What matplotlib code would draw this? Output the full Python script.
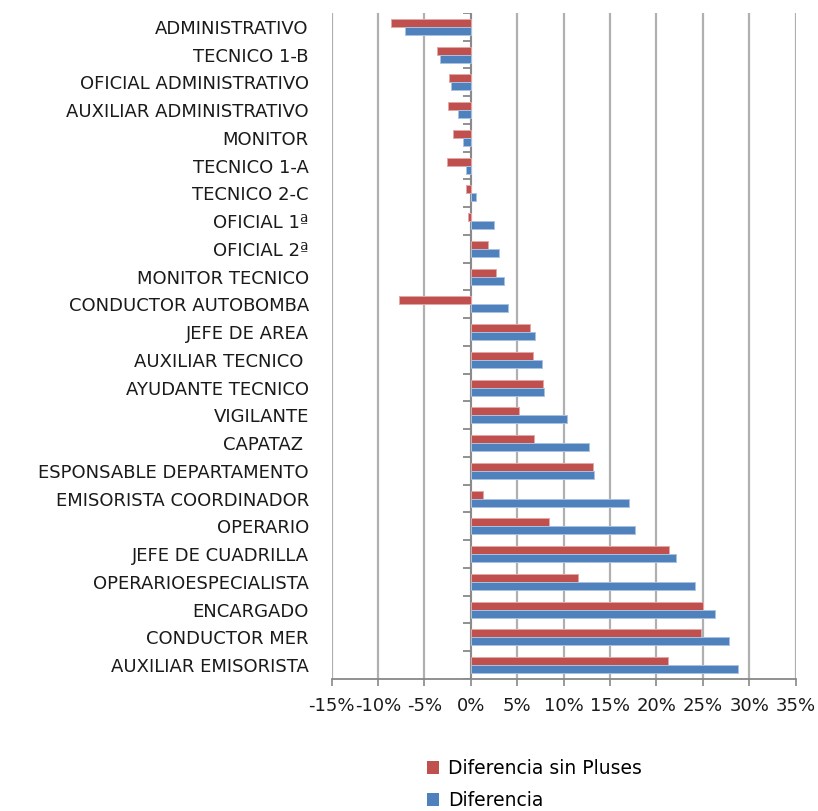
import numpy as np
import matplotlib.pyplot as plt
from matplotlib.patches import Patch

# categories, top to bottom as in the chart
categories = [
    "ADMINISTRATIVO", "TECNICO 1-B", "OFICIAL ADMINISTRATIVO",
    "AUXILIAR ADMINISTRATIVO", "MONITOR", "TECNICO 1-A", "TECNICO 2-C",
    "OFICIAL 1ª", "OFICIAL 2ª", "MONITOR TECNICO", "CONDUCTOR AUTOBOMBA",
    "JEFE DE AREA", "AUXILIAR TECNICO ", "AYUDANTE TECNICO", "VIGILANTE",
    "CAPATAZ ", "ESPONSABLE DEPARTAMENTO", "EMISORISTA COORDINADOR",
    "OPERARIO", "JEFE DE CUADRILLA", "OPERARIOESPECIALISTA", "ENCARGADO",
    "CONDUCTOR MER", "AUXILIAR EMISORISTA",
]

# % values
sin_pluses = [-8.6, -3.6, -2.4, -2.5, -1.9, -2.6, -0.5, -0.3, 1.8, 2.7, -7.7,
              6.4, 6.7, 7.8, 5.2, 6.8, 13.15, 1.3, 8.4, 21.3, 11.5, 25.0,
              24.8, 21.2]
diferencia = [-7.1, -3.3, -2.15, -1.4, -0.9, -0.55, 0.55, 2.45, 3.05, 3.55,
              4.05, 6.9, 7.65, 7.9, 10.4, 12.75, 13.25, 17.0, 17.7, 22.1,
              24.1, 26.3, 27.8, 28.8]

x_ticks = [-15, -10, -5, 0, 5, 10, 15, 20, 25, 30, 35]

RED = "#C0504D"
BLUE = "#4F81BD"

plt.rcParams.update({"font.family": ["DejaVu Sans"]})

fig = plt.figure(figsize=(8.18, 8.11), dpi=100)
ax = fig.add_axes([0.4055, 0.1628, 0.5672, 0.8212])

n = len(categories)
y = np.arange(n)
h = 0.286

ax.barh(y - h / 2, sin_pluses, height=h, color=RED, edgecolor="#e3a7a5",
        linewidth=0.7, zorder=3)
ax.barh(y + h / 2, diferencia, height=h, color=BLUE, edgecolor="#a9c2e2",
        linewidth=0.7, zorder=3)

ax.set_ylim(n - 0.5, -0.5)
ax.set_xlim(x_ticks[0], x_ticks[-1])
ax.set_xticks(x_ticks)
ax.set_xticklabels([f"{t}%" for t in x_ticks], fontsize=13, color="#1a1a1a")
ax.set_yticks(y)
ax.set_yticklabels(categories, fontsize=13, color="#1a1a1a")
ax.tick_params(axis="y", length=0, pad=16.5)
ax.tick_params(axis="x", length=5, width=1.2, color="#888888", pad=8)

ax.grid(axis="x", color="#b0b0b0", linewidth=1.6, zorder=0)
for s in ["top", "left", "right"]:
    ax.spines[s].set_visible(False)
ax.spines["bottom"].set_color("#888888")
ax.spines["bottom"].set_linewidth(1.3)

# category axis crossing at 0 with its tick marks
ax.axvline(0, color="#888888", linewidth=1.3, zorder=2)
ax.hlines(np.arange(n + 1) - 0.5, -0.9, 0, color="#888888", linewidth=1.3,
          zorder=2)

handles = [Patch(facecolor=RED, label="Diferencia sin Pluses"),
           Patch(facecolor=BLUE, label="Diferencia")]
fig.legend(handles=handles, loc="upper left", bbox_to_anchor=(0.513, 0.0735),
           frameon=False, fontsize=13.5, handlelength=0.65, handleheight=0.65,
           handletextpad=0.45, labelspacing=0.7, borderaxespad=0)

fig.savefig("out.png", dpi=100)
